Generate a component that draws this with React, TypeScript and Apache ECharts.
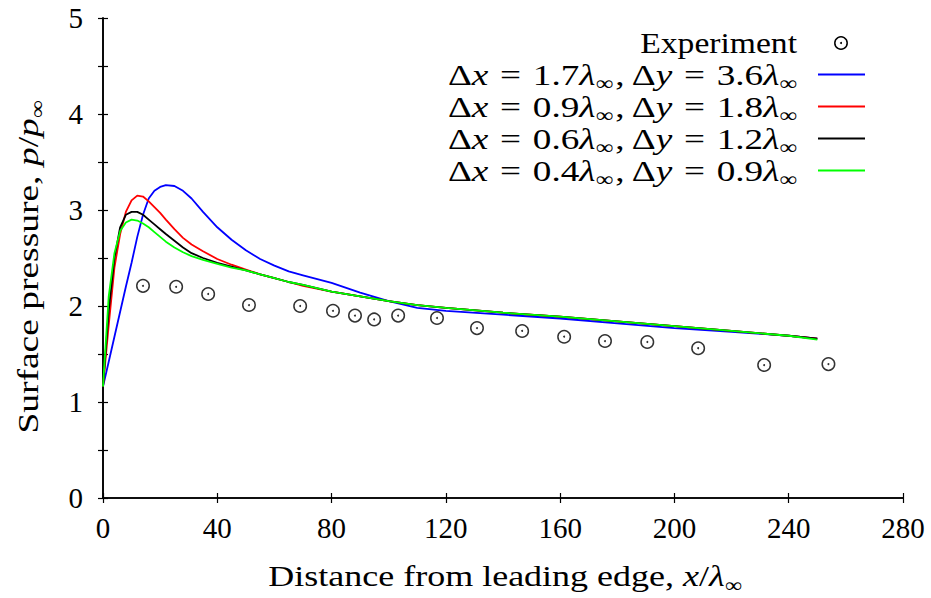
import React, { useEffect, useRef } from "react";
import * as echarts from "echarts";

// Simulation sampling positions (x / lambda_inf)
const xPos = [0, 2, 4, 6, 8, 10, 12, 14, 16, 18, 20, 22, 25, 28, 31, 35, 40, 45, 50, 55, 60, 65, 70, 80, 90, 100, 110, 120, 140, 160, 180, 200, 220, 240, 250];

const pBlue = [1.16, 1.42, 1.68, 1.94, 2.2, 2.45, 2.72, 2.95, 3.12, 3.2, 3.24, 3.26, 3.25, 3.2, 3.12, 2.98, 2.82, 2.69, 2.58, 2.49, 2.42, 2.36, 2.32, 2.24, 2.14, 2.05, 1.98, 1.95, 1.91, 1.87, 1.82, 1.77, 1.73, 1.69, 1.66];
const pRed = [1.16, 1.8, 2.4, 2.75, 2.98, 3.1, 3.15, 3.14, 3.09, 3.03, 2.97, 2.9, 2.8, 2.71, 2.64, 2.57, 2.49, 2.43, 2.38, 2.33, 2.29, 2.25, 2.21, 2.15, 2.1, 2.05, 2.01, 1.98, 1.93, 1.89, 1.84, 1.79, 1.74, 1.69, 1.66];
const pBlack = [1.16, 1.95, 2.5, 2.82, 2.95, 2.98, 2.98, 2.95, 2.9, 2.85, 2.8, 2.75, 2.68, 2.61, 2.55, 2.5, 2.45, 2.41, 2.37, 2.33, 2.29, 2.25, 2.22, 2.15, 2.1, 2.05, 2.01, 1.98, 1.93, 1.89, 1.84, 1.79, 1.74, 1.69, 1.66];
const pGreen = [1.16, 2.1, 2.55, 2.78, 2.87, 2.9, 2.89, 2.86, 2.82, 2.77, 2.72, 2.67, 2.61, 2.56, 2.52, 2.48, 2.44, 2.4, 2.37, 2.33, 2.29, 2.25, 2.22, 2.15, 2.1, 2.05, 2.01, 1.98, 1.93, 1.89, 1.84, 1.79, 1.74, 1.69, 1.65];

// Experiment
const expX = [14.0, 25.6, 36.8, 51.1, 69.0, 80.5, 88.2, 94.9, 103.3, 116.9, 130.9, 146.7, 161.4, 175.7, 190.5, 208.3, 231.4, 253.9];
const expP = [2.21, 2.2, 2.125, 2.01, 2.0, 1.95, 1.9, 1.86, 1.9, 1.875, 1.77, 1.74, 1.68, 1.635, 1.625, 1.56, 1.385, 1.395];

const gridDx = ["1.7", "0.9", "0.6", "0.4"];
const gridDy = ["3.6", "1.8", "1.2", "0.9"];
const colors = ["#0000ff", "#ff0000", "#000000", "#00ff00"];
const seriesP = [pBlue, pRed, pBlack, pGreen];

const xTicks = { min: 0, max: 280, interval: 40 };
const yTicks = { min: 0, max: 5, interval: 0.5 };

const F = "'Liberation Serif', 'DejaVu Serif', serif";
const FS = 29;
const TS = 30;

const rich = {
  n: { fontFamily: F, fontSize: TS, color: "#000", lineHeight: 38, verticalAlign: "middle" },
  i: { fontFamily: F, fontSize: TS, fontStyle: "italic", color: "#000", lineHeight: 38, verticalAlign: "middle" },
  e: { fontFamily: F, fontSize: TS, color: "#000", lineHeight: 38, verticalAlign: "middle", padding: [0, 2, 0, 2] },
  s: { fontFamily: F, fontSize: 20, color: "#000", lineHeight: 20, verticalAlign: "bottom" },
};

const legendText = (dx: string, dy: string) =>
  `{n|Δ}{i|x}{e| = }{n|${dx}}{i|λ}{s|∞}{n|, Δ}{i|y}{e| = }{n|${dy}}{i|λ}{s|∞}`;

export default function App() {
  const ref = useRef<HTMLDivElement>(null);
  useEffect(() => {
    if (!ref.current) return;
    const chart = echarts.init(ref.current, undefined, { renderer: "svg" });
    const axisLine = { show: true, lineStyle: { color: "#000", width: 1.6 } };
    const axisTick = { show: true, inside: true, length: 5, lineStyle: { color: "#000", width: 1.2 } };

    const lineSeries = seriesP.map((p, k) => ({
      type: "line",
      xAxisIndex: 0,
      yAxisIndex: 0,
      data: xPos.map((x, i) => [x, p[i]]),
      showSymbol: false,
      symbol: "none",
      lineStyle: { color: colors[k], width: 1.8 },
      z: 3 + k,
    }));

    const expData = expX.map((x, i) => [x, expP[i]]);

    const legendRowsY = [74.5, 106.5, 138.5, 170.5];
    const graphic: any[] = [
      {
        type: "text",
        x: 797,
        y: 43,
        scaleX: 1.12,
        style: { text: "Experiment", font: `${TS}px ${F}`, fill: "#000", align: "right", verticalAlign: "middle" },
      },
      { type: "circle", shape: { cx: 841, cy: 43, r: 6.2 }, style: { fill: "none", stroke: "#000", lineWidth: 1.5 } },
      { type: "circle", shape: { cx: 841, cy: 43, r: 1 }, style: { fill: "#000" } },
    ];
    gridDx.forEach((dx, k) => {
      graphic.push({
        type: "text",
        x: 797,
        y: legendRowsY[k],
        scaleX: 1.24,
        style: { text: legendText(dx, gridDy[k]), rich, align: "right", verticalAlign: "middle" },
      });
      graphic.push({
        type: "line",
        shape: { x1: 818, y1: legendRowsY[k], x2: 865, y2: legendRowsY[k] },
        style: { stroke: colors[k], lineWidth: 1.8 },
      });
    });
    // Axis titles
    graphic.push({
      type: "text",
      x: 505,
      y: 576,
      scaleX: 1.2,
      style: {
        text: "{n|Distance from leading edge, }{i|x}{n|/}{i|λ}{s|∞}",
        rich,
        align: "center",
        verticalAlign: "middle",
      },
    });
    graphic.push({
      type: "text",
      x: 28,
      y: 267,
      rotation: Math.PI / 2,
      scaleX: 1.25,
      style: {
        text: "{n|Surface pressure, }{i|p}{n|/}{i|p}{s|∞}",
        rich,
        align: "center",
        verticalAlign: "middle",
      },
    });

    chart.setOption({
      animation: false,
      backgroundColor: "#fff",
      grid: { left: 103, right: 28, top: 18, bottom: 100, containLabel: false },
      xAxis: [
        {
          type: "value",
          position: "bottom",
          ...xTicks,
          axisLine,
          axisTick,
          splitLine: { show: false },
          axisLabel: { show: true, margin: 15, fontFamily: F, fontSize: FS, color: "#000" },
        },
        {
          type: "value",
          position: "top",
          ...xTicks,
          axisLine,
          axisTick,
          splitLine: { show: false },
          axisLabel: { show: false },
        },
      ],
      yAxis: [
        {
          type: "value",
          position: "left",
          ...yTicks,
          axisLine,
          axisTick,
          splitLine: { show: false },
          axisLabel: {
            show: true,
            margin: 20,
            fontFamily: F,
            fontSize: FS,
            color: "#000",
            formatter: (v: number) => (Number.isInteger(v) ? String(v) : ""),
          },
        },
        {
          type: "value",
          position: "right",
          ...yTicks,
          axisLine,
          axisTick,
          splitLine: { show: false },
          axisLabel: { show: false },
        },
      ],
      series: [
        ...lineSeries,
        {
          type: "scatter",
          data: expData,
          symbol: "circle",
          symbolSize: 12.5,
          itemStyle: { color: "rgba(0,0,0,0)", borderColor: "#000", borderWidth: 1.5 },
          z: 10,
        },
        {
          type: "scatter",
          data: expData,
          symbol: "circle",
          symbolSize: 2,
          itemStyle: { color: "#000" },
          z: 11,
        },
      ],
      graphic,
    });
    return () => chart.dispose();
  }, []);
  return (
    <div
      ref={ref}
      style={{ position: "fixed", left: 0, top: 0, width: 931, height: 598, background: "#fff" }}
    />
  );
}
